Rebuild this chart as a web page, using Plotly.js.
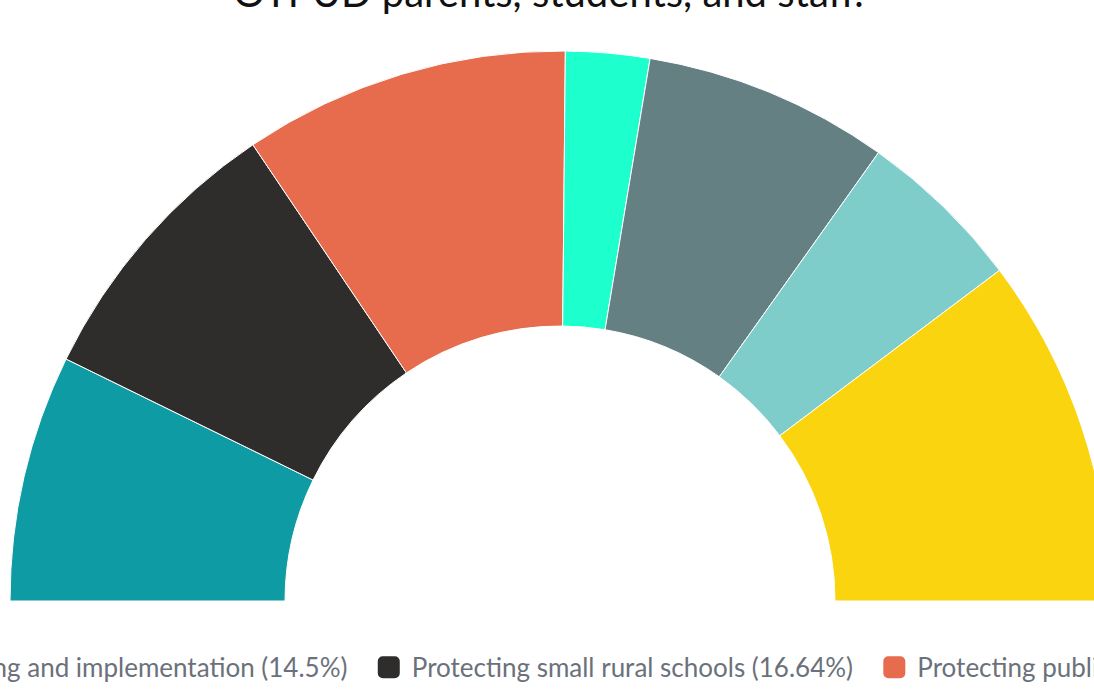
<!DOCTYPE html>
<html>
<head>
<meta charset="utf-8">
<script src="https://cdn.plot.ly/plotly-3.0.1.min.js"></script>
<style>
  html, body { margin: 0; padding: 0; width: 1094px; height: 695px; overflow: hidden; background: #ffffff; }
  #chart { position: absolute; left: -4440px; top: -149px; width: 10000px; height: 1350px; }
</style>
</head>
<body>
<div id="chart"></div>
<script>
// Data
const titleText = "Top budget priorities identified by<br>OTPUD parents, students, and staff.";
const priorities = [
  "Strategic planning and implementation",
  "Protecting small rural schools",
  "Protecting public school programs",
  "Expanding student support services",
  "Recruiting and retaining staff",
  "Maintaining facilities and safety",
  "Improving academic outcomes"
];
const shares = [14.5, 16.64, 19.17, 4.93, 14.42, 9.81, 20.53];
const colors = ["#0f9ba3", "#2e2d2c", "#e66c4d", "#1dffcc", "#648083", "#7fcdca", "#fad40f"];
const hiddenLabel = "Total";

// Half-donut: the lower half is a transparent slice equal to the visible total
const total = shares.reduce((a, b) => a + b, 0);
const labels = priorities.map((p, i) => p + " (" + shares[i] + "%)\u00a0\u00a0").concat([hiddenLabel]);
const values = shares.concat([total]);
const sliceColors = colors.concat(["rgba(0,0,0,0)"]);
const lineColors = colors.map(() => "#ffffff").concat(["rgba(0,0,0,0)"]);

const trace = {
  type: "pie",
  labels: labels,
  values: values,
  sort: false,
  direction: "clockwise",
  rotation: -90,
  hole: 0.5,
  textinfo: "none",
  hoverinfo: "none",
  marker: { colors: sliceColors, line: { color: lineColors, width: 1 } },
  domain: { x: [0, 1], y: [0, 1] }
};

const layout = {
  width: 10000,
  height: 1350,
  margin: { l: 4450, r: 4450, t: 200, b: 50, autoexpand: false },
  paper_bgcolor: "#ffffff",
  plot_bgcolor: "#ffffff",
  font: { family: "Lato, sans-serif" },
  title: {
    text: titleText,
    font: { family: "Lato, sans-serif", size: 40, color: "#111111" },
    xref: "paper", x: 0.4895, xanchor: "center",
    yref: "paper", y: 1, yanchor: "bottom",
    pad: { b: 96 }
  },
  showlegend: true,
  legend: {
    orientation: "h",
    xref: "paper", x: -0.2173, xanchor: "left",
    yref: "paper", y: 0.461, yanchor: "top",
    font: { family: "Lato, sans-serif", size: 26, color: "#6b717b" },
    bgcolor: "rgba(0,0,0,0)",
    itemwidth: 36,
    traceorder: "normal"
  }
};

Plotly.newPlot("chart", [trace], layout, { staticPlot: true, displayModeBar: false }).then(function (gd) {
  // enlarge legend swatches into rounded squares like the reference
  gd.querySelectorAll(".legend path.legendpie").forEach(function (p) {
    const fill = p.style.fill;
    p.style.stroke = fill;
    p.style.strokeWidth = "10px";
    p.style.strokeLinejoin = "round";
  });
});
</script>
</body>
</html>
